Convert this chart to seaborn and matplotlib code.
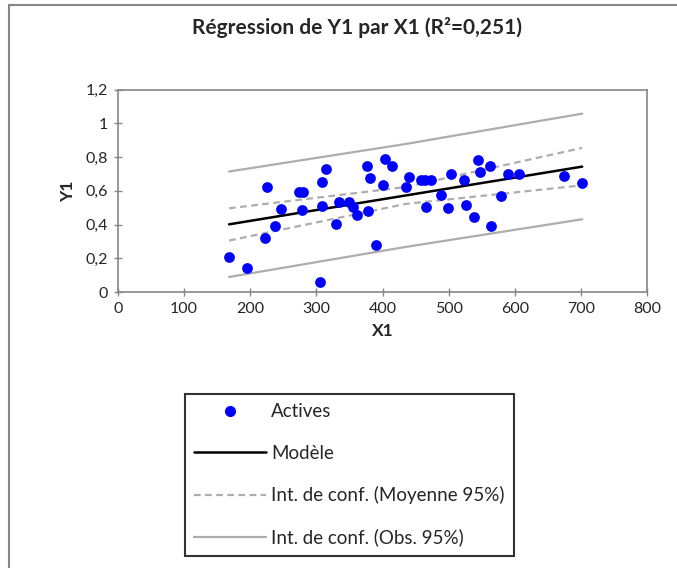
import matplotlib
matplotlib.use("Agg")
import matplotlib.pyplot as plt
import matplotlib.ticker as mticker
from matplotlib.lines import Line2D
import seaborn as sns
import pandas as pd

x1 = [168, 195, 225, 223, 237, 247, 273, 280, 279, 305, 309, 315, 309, 329, 334,
      350, 356, 361, 377, 381, 378, 390, 404, 415, 400, 440, 436, 458, 465, 473,
      466, 488, 504, 499, 523, 526, 538, 545, 547, 562, 564, 579, 590, 606, 675, 702]
y1 = [0.21, 0.142, 0.62, 0.32, 0.39, 0.49, 0.593, 0.593, 0.484, 0.062, 0.652, 0.727,
      0.512, 0.401, 0.532, 0.532, 0.504, 0.459, 0.745, 0.674, 0.478, 0.279, 0.791,
      0.749, 0.632, 0.680, 0.625, 0.662, 0.662, 0.662, 0.506, 0.573, 0.702, 0.498,
      0.664, 0.514, 0.443, 0.785, 0.710, 0.747, 0.391, 0.571, 0.700, 0.702, 0.688, 0.646]

# modele et intervalles de confiance
x_line = [168, 435, 702]
modele = [0.401, 0.572, 0.743]
moy_haut = [0.496, 0.622, 0.854]
moy_bas = [0.305, 0.522, 0.632]
obs_haut = [0.714, 0.877, 1.057]
obs_bas = [0.089, 0.267, 0.431]

sns.set_style("white")
plt.rcParams['font.family'] = ['Lato', 'DejaVu Sans']

fig = plt.figure(figsize=(6.77, 5.68), dpi=100)
ax = fig.add_axes([118 / 677, 1 - 292 / 568, 529 / 677, 202.5 / 568])

gris = "#ADADAD"
sns.lineplot(x=x_line, y=obs_haut, ax=ax, color=gris, lw=1.6)
sns.lineplot(x=x_line, y=obs_bas, ax=ax, color=gris, lw=1.6)
sns.lineplot(x=x_line, y=moy_haut, ax=ax, color=gris, lw=1.6, linestyle=(0, (3, 2)))
sns.lineplot(x=x_line, y=moy_bas, ax=ax, color=gris, lw=1.6, linestyle=(0, (3, 2)))
sns.lineplot(x=x_line, y=modele, ax=ax, color="black", lw=1.8)
df = pd.DataFrame({"X1": x1, "Y1": y1})
sns.scatterplot(data=df, x="X1", y="Y1", ax=ax, color="blue", s=60, linewidth=0, zorder=5)

ax.set_xlim(0, 800)
ax.set_ylim(0, 1.2)
ax.set_xticks(range(0, 801, 100))
ax.set_yticks([0, 0.2, 0.4, 0.6, 0.8, 1.0, 1.2])
ax.yaxis.set_major_formatter(mticker.FuncFormatter(lambda v, p: f"{v:g}".replace(".", ",")))
ax.tick_params(axis="both", direction="inout", length=6, width=1, color="#868686",
               labelsize=11.5, pad=4, bottom=True, left=True)
for s in ax.spines.values():
    s.set_color("#868686")
    s.set_linewidth(1.2)
ax.set_xlabel("X1", fontsize=12.5, fontweight="bold", labelpad=5)
ax.set_ylabel("Y1", fontsize=12.5, fontweight="bold", labelpad=7)

fig.text(357 / 677, 1 - 28 / 568, "Régression de Y1 par X1 (R²=0,251)",
         ha="center", va="center", fontsize=15, fontweight="bold")

# bordure exterieure (gauche et haut seulement)
fig.add_artist(Line2D([9 / 677, 9 / 677], [0, 1 - 5 / 568], color="#868686", lw=1.5))
fig.add_artist(Line2D([9 / 677, 1], [1 - 5 / 568, 1 - 5 / 568], color="#868686", lw=1.5))

handles = [
    Line2D([], [], color="blue", marker="o", linestyle="none", markersize=7),
    Line2D([], [], color="black", lw=1.8),
    Line2D([], [], color=gris, lw=1.6, linestyle=(0, (3, 2))),
    Line2D([], [], color=gris, lw=1.6),
]
labels = ["Actives", "Modèle", "Int. de conf. (Moyenne 95%)", "Int. de conf. (Obs. 95%)"]
leg = fig.legend(handles, labels, loc="upper left", bbox_to_anchor=(185 / 677, 1 - 394 / 568),
                 fontsize=13.5, frameon=True, fancybox=False, handlelength=3.8,
                 handletextpad=0.3, labelspacing=1.3, borderpad=0.5, borderaxespad=0)
leg.get_frame().set_edgecolor("black")
leg.get_frame().set_linewidth(1.5)

fig.savefig("out.png", dpi=100)
